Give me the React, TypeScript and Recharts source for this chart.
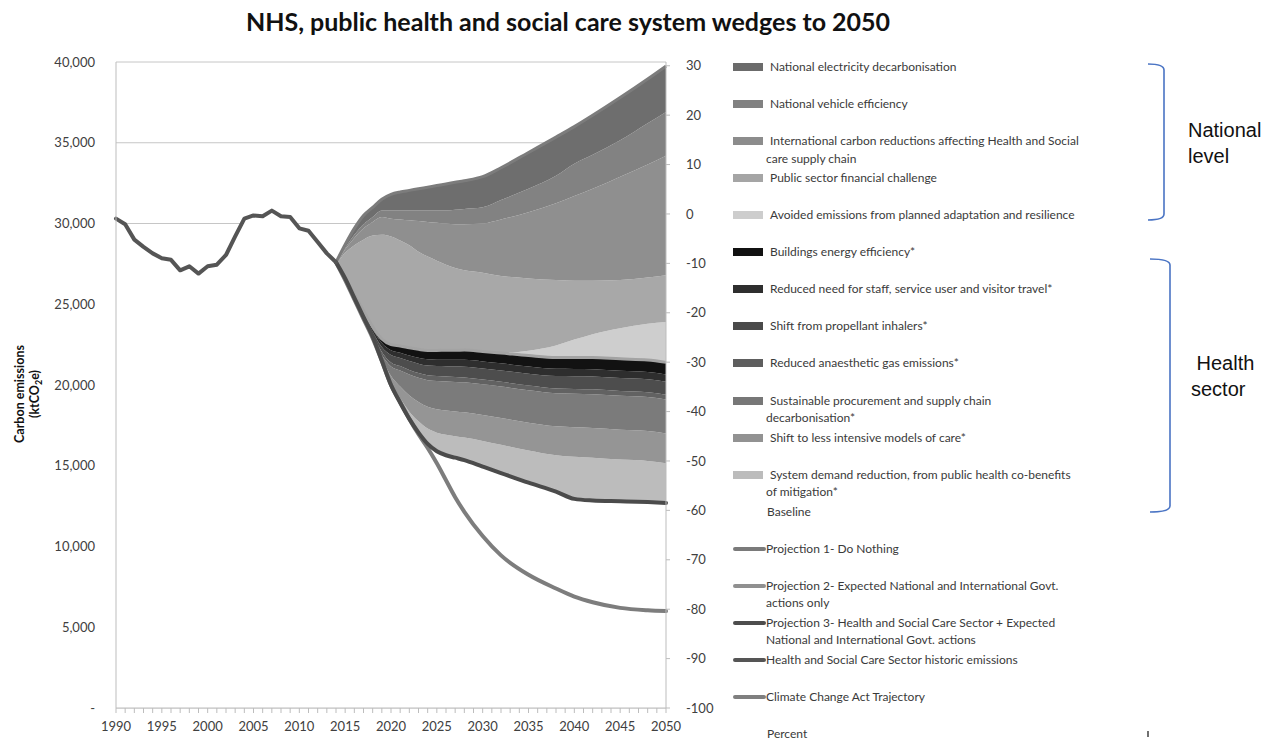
import React from 'react';
import { ComposedChart, Area, Line, XAxis, YAxis, CartesianGrid } from 'recharts';

// historic emissions, ktCO2e
const historicYears = [1990, 1991, 1992, 1993, 1994, 1995, 1996, 1997, 1998, 1999, 2000, 2001, 2002, 2003, 2004, 2005, 2006, 2007, 2008, 2009, 2010, 2011, 2012, 2013, 2014];
const historicEmissions = [30300, 29950, 29000, 28550, 28150, 27850, 27750, 27100, 27350, 26900, 27350, 27450, 28050, 29200, 30300, 30500, 30450, 30800, 30450, 30400, 29700, 29550, 28850, 28150, 27600];

// projections
const projYears = [2014, 2015, 2016, 2017, 2018, 2019, 2020, 2021, 2022, 2023, 2024, 2025, 2026, 2027, 2028, 2030, 2032, 2035, 2038, 2040, 2042, 2045, 2048, 2050];
const projection3 = [27600, 26600, 25400, 24200, 23000, 21500, 20000, 18900, 17900, 17050, 16350, 15900, 15650, 15500, 15350, 14950, 14550, 13950, 13400, 12950, 12850, 12800, 12750, 12700];
const projection2 = [27600, 26600, 25600, 24600, 23600, 22850, 22500, 22420, 22310, 22210, 22140, 22140, 22150, 22150, 22160, 22080, 21980, 21820, 21700, 21710, 21700, 21620, 21550, 21400];
const projection1 = [27600, 28700, 29700, 30500, 31000, 31500, 31800, 31950, 32050, 32150, 32250, 32350, 32450, 32550, 32650, 32900, 33450, 34400, 35350, 36000, 36700, 37800, 38950, 39750];
const climateAct = [27600, 26500, 25300, 24100, 22900, 21500, 20000, 18950, 17900, 16950, 16100, 15150, 14100, 13050, 12150, 10650, 9450, 8250, 7400, 6900, 6550, 6200, 6050, 6000];

// wedge thickness, ktCO2e (health sector)
const systemDemand = [0, 0, 0, 0, 0, 50, 150, 300, 450, 700, 950, 1150, 1270, 1330, 1400, 1590, 1750, 2000, 2250, 2600, 2650, 2580, 2550, 2450];
const modelsOfCare = [0, 0, 0, 0, 0, 100, 400, 700, 1000, 1200, 1350, 1450, 1500, 1530, 1560, 1600, 1650, 1720, 1790, 1830, 1840, 1850, 1850, 1850];
const procurement = [0, 0, 0, 0, 50, 200, 600, 1000, 1300, 1500, 1650, 1750, 1800, 1830, 1860, 1900, 1950, 2000, 2050, 2080, 2090, 2100, 2100, 2100];
const anaesthetic = [0, 0, 50, 100, 100, 200, 250, 270, 280, 290, 300, 300, 300, 300, 300, 300, 300, 300, 300, 300, 300, 300, 300, 300];
const inhalers = [0, 0, 50, 100, 150, 300, 450, 500, 550, 580, 600, 620, 640, 650, 660, 680, 700, 730, 760, 780, 790, 800, 800, 800];
const travel = [0, 0, 50, 100, 150, 250, 300, 330, 350, 370, 390, 400, 410, 420, 430, 440, 440, 450, 450, 450, 450, 450, 450, 450];
const buildings = [0, 0, 50, 100, 150, 250, 350, 420, 480, 520, 550, 570, 580, 590, 600, 620, 640, 670, 700, 720, 730, 740, 750, 750];
// wedge thickness (national level)
const adaptation = [0, 0, 0, 0, 0, 0, 0, 0, 0, 0, 0, 0, 0, 0, 0, 0, 0, 300, 750, 1100, 1450, 1900, 2250, 2500];
const publicSector = [0, 1600, 3050, 4400, 5650, 6450, 6700, 6530, 6340, 6040, 5810, 5560, 5300, 5100, 4940, 4870, 4770, 4480, 4050, 3640, 3300, 2980, 2850, 2900];
const international = [0, 200, 450, 700, 850, 1100, 1100, 1300, 1550, 1900, 2150, 2350, 2550, 2700, 2850, 3050, 3500, 4100, 4750, 5250, 5700, 6400, 7000, 7400];
const vehicle = [0, 100, 200, 250, 300, 400, 500, 550, 600, 650, 700, 750, 800, 900, 950, 1000, 1200, 1450, 1700, 2000, 2100, 2250, 2550, 2700];
const electricity = [0, 200, 400, 550, 600, 700, 1000, 1150, 1250, 1350, 1450, 1550, 1650, 1700, 1750, 1900, 2000, 2250, 2400, 2300, 2450, 2650, 2750, 2850];

const leftTicks = [0, 5000, 10000, 15000, 20000, 25000, 30000, 35000, 40000];
const pctTicks = [-100, -90, -80, -70, -60, -50, -40, -30, -20, -10, 0, 10, 20, 30];
const yearTicks: number[] = [];
for (let y = 1990; y <= 2050; y++) yearTicks.push(y);

// stacked bottom to top
const wedges = [
  { key: 'demand', color: '#bcbcbc', values: systemDemand },
  { key: 'models', color: '#959595', values: modelsOfCare },
  { key: 'procure', color: '#7b7b7b', values: procurement },
  { key: 'anaes', color: '#626262', values: anaesthetic },
  { key: 'inhal', color: '#4d4d4d', values: inhalers },
  { key: 'travel', color: '#2e2e2e', values: travel },
  { key: 'build', color: '#121212', values: buildings },
  { key: 'adapt', color: '#cecece', values: adaptation },
  { key: 'public', color: '#a8a8a8', values: publicSector },
  { key: 'intl', color: '#8f8f8f', values: international },
  { key: 'vehicle', color: '#828282', values: vehicle },
  { key: 'elec', color: '#6e6e6e', values: electricity },
];

const rows: any[] = [];
historicYears.slice(0, -1).forEach((year, i) => {
  const r: any = { year, historic: historicEmissions[i], baseline: historicEmissions[i] };
  wedges.forEach(w => (r[w.key] = 0));
  rows.push(r);
});
projYears.forEach((year, i) => {
  const r: any = {
    year,
    baseline: projection3[i],
    p1: projection1[i],
    p2: projection2[i],
    p3: projection3[i],
    cca: climateAct[i],
  };
  if (year === 2014) r.historic = historicEmissions[historicEmissions.length - 1];
  wedges.forEach(w => (r[w.key] = w.values[i]));
  rows.push(r);
});

const legendItems = [
  { kind: 'box', color: '#6b6b6b', lines: ['National electricity decarbonisation'] },
  { kind: 'box', color: '#818181', lines: ['National vehicle efficiency'] },
  { kind: 'box', color: '#8c8c8c', lines: ['International carbon reductions affecting Health and Social', 'care supply chain'] },
  { kind: 'box', color: '#a5a5a5', lines: ['Public sector financial challenge'] },
  { kind: 'box', color: '#cdcdcd', lines: ['Avoided emissions from planned adaptation and resilience'] },
  { kind: 'box', color: '#111111', lines: ['Buildings energy efficiency*'] },
  { kind: 'box', color: '#2e2e2e', lines: ['Reduced need for staff, service user and visitor travel*'] },
  { kind: 'box', color: '#4a4a4a', lines: ['Shift from propellant inhalers*'] },
  { kind: 'box', color: '#5e5e5e', lines: ['Reduced anaesthetic gas emissions*'] },
  { kind: 'box', color: '#777777', lines: ['Sustainable procurement and supply chain', 'decarbonisation*'] },
  { kind: 'box', color: '#929292', lines: ['Shift to less intensive models of care*'] },
  { kind: 'box', color: '#bcbcbc', lines: ['System demand reduction, from public health co-benefits', 'of mitigation*'] },
  { kind: 'none', color: '', lines: ['Baseline'] },
  { kind: 'line', color: '#7a7a7a', lines: ['Projection 1- Do Nothing'] },
  { kind: 'line', color: '#909090', lines: ['Projection 2- Expected National and International Govt.', 'actions only'] },
  { kind: 'line', color: '#4d4d4d', lines: ['Projection 3- Health and Social Care Sector + Expected', 'National and International Govt. actions'] },
  { kind: 'line', color: '#555555', lines: ['Health and Social Care Sector historic emissions'] },
  { kind: 'line', color: '#7f7f7f', lines: ['Climate Change Act Trajectory'] },
  { kind: 'none', color: '', lines: ['Percent'] },
];

const FONT = 'Lato, "Open Sans", sans-serif';
const tickStyle = { fill: '#404040', fontSize: 13, fontFamily: FONT };

const YearTick = (props: any) => {
  const { x, y, payload } = props;
  if (payload.value % 5 !== 0) return <g />;
  return (
    <text x={x} y={y} dy="0.71em" textAnchor="middle" {...tickStyle}>
      {payload.value}
    </text>
  );
};

export default function App() {
  return (
    <div style={{ position: 'absolute', left: 0, top: 0, width: 1269, height: 740, background: '#fff', fontFamily: FONT }}>
      <ComposedChart width={1269} height={740} data={rows} margin={{ top: 62, right: 563, bottom: 0, left: 16 }}>
        <CartesianGrid yAxisId="left" vertical={false} stroke="#c6c6c6" />
        <XAxis
          dataKey="year"
          type="number"
          domain={[1990, 2050]}
          ticks={yearTicks}
          interval={0}
          height={32}
          tickSize={5}
          tickMargin={9}
          stroke="#bdbdbd"
          tick={<YearTick />}
        />
        <YAxis
          yAxisId="left"
          type="number"
          domain={[0, 40000]}
          ticks={leftTicks}
          width={100}
          tickSize={0}
          tickMargin={21}
          stroke="#bdbdbd"
          tick={tickStyle}
          tickFormatter={(v: number) => (v === 0 ? '-' : v.toLocaleString('en-US'))}
        />
        <YAxis
          yAxisId="pct"
          orientation="right"
          type="number"
          domain={[-100, 30.76]}
          allowDataOverflow
          ticks={pctTicks}
          width={40}
          tickSize={4}
          tickMargin={16}
          stroke="#bdbdbd"
          tick={{ ...tickStyle, textAnchor: 'start' }}
        />
        <Area yAxisId="left" dataKey="baseline" stackId="w" type="linear" stroke="none" fill="#ffffff" fillOpacity={1} isAnimationActive={false} />
        {wedges.map(w => (
          <Area
            key={w.key}
            yAxisId="left"
            dataKey={w.key}
            stackId="w"
            type="monotone"
            stroke="none"
            fill={w.color}
            fillOpacity={1}
            isAnimationActive={false}
          />
        ))}
        <Line yAxisId="left" dataKey="p2" type="monotone" stroke="#a3a3a3" strokeWidth={3} dot={false} activeDot={false} isAnimationActive={false} />
        <Line yAxisId="left" dataKey="p1" type="monotone" stroke="#7c7c7c" strokeWidth={3} dot={false} activeDot={false} isAnimationActive={false} />
        <Line yAxisId="left" dataKey="cca" type="monotone" stroke="#7d7d7d" strokeWidth={4} strokeLinecap="round" dot={false} activeDot={false} isAnimationActive={false} />
        <Line yAxisId="left" dataKey="p3" type="monotone" stroke="#4b4b4b" strokeWidth={4} strokeLinecap="round" dot={false} activeDot={false} isAnimationActive={false} />
        <Line yAxisId="left" dataKey="historic" type="linear" stroke="#555555" strokeWidth={4} strokeLinejoin="round" strokeLinecap="round" dot={false} activeDot={false} isAnimationActive={false} />
      </ComposedChart>

      <div style={{ position: 'absolute', left: 0, width: 1136, top: 6, textAlign: 'center', fontSize: 25, fontWeight: 700, color: '#111' }}>
        NHS, public health and social care system wedges to 2050
      </div>

      <svg width={1269} height={740} style={{ position: 'absolute', left: 0, top: 0, pointerEvents: 'none' }}>
        <g transform="translate(24,394) rotate(-90)" fontFamily={FONT} fontSize={12.5} fontWeight={700} fill="#111" textAnchor="middle">
          <text x={0} y={0}>Carbon emissions</text>
          <text x={0} y={15}>
            (ktCO<tspan fontSize={9} dy={3}>2</tspan>
            <tspan dy={-3}>e)</tspan>
          </text>
        </g>
        <path d="M1148,64 Q1164,64 1164,70 L1164,214 Q1164,220 1148,220" fill="none" stroke="#4a74c4" strokeWidth={1.6} />
        <path d="M1150,259 Q1170,259 1170,265 L1170,506 Q1170,512 1150,512" fill="none" stroke="#4a74c4" strokeWidth={1.6} />
        <line x1={1148} y1={731} x2={1148} y2={737} stroke="#111" strokeWidth={1.2} />
      </svg>

      <div style={{ position: 'absolute', left: 1188, top: 117, fontFamily: '"Liberation Sans", Arial, sans-serif', fontSize: 20, lineHeight: '26px', color: '#111' }}>
        National
        <br />
        level
      </div>
      <div style={{ position: 'absolute', left: 1191, top: 350, fontFamily: '"Liberation Sans", Arial, sans-serif', fontSize: 20, lineHeight: '26px', color: '#111' }}>
        &nbsp;Health
        <br />
        sector
      </div>

      {legendItems.map((item, i) => {
        const cy = 67 + i * 37.06;
        const textLeft = item.kind === 'line' ? 766 : item.kind === 'box' ? 770 : 767;
        return (
          <div key={i}>
            {item.kind === 'box' && (
              <div style={{ position: 'absolute', left: 733, top: cy - 4, width: 30, height: 8, background: item.color }} />
            )}
            {item.kind === 'line' && (
              <div style={{ position: 'absolute', left: 733, top: cy - 2, width: 33, height: 4, borderRadius: 2, background: item.color }} />
            )}
            {item.lines.map((t, j) => (
              <div
                key={j}
                style={{
                  position: 'absolute',
                  left: j === 0 ? textLeft : 766,
                  top: cy - 8 + j * 17.5,
                  fontSize: 12,
                  lineHeight: '16px',
                  color: '#3a3a3a',
                  whiteSpace: 'nowrap',
                }}
              >
                {t}
              </div>
            ))}
          </div>
        );
      })}
    </div>
  );
}
